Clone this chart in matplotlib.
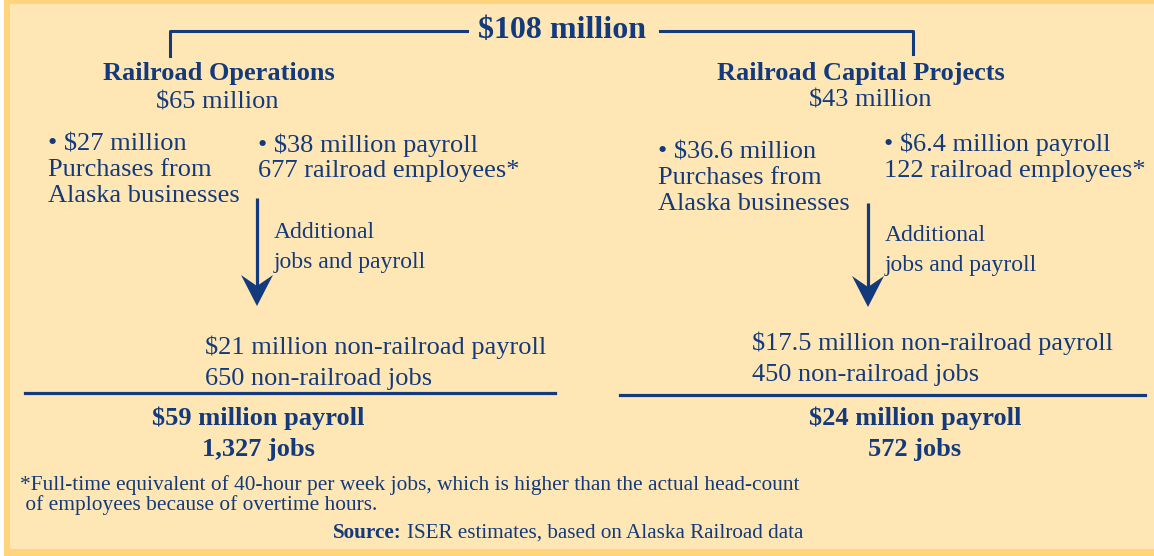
import matplotlib
matplotlib.use("Agg")
import matplotlib.pyplot as plt
from matplotlib.patches import Rectangle, Polygon

# ---- content ----
total_label = "$108 million"
branch_titles = ["Railroad Operations", "Railroad Capital Projects"]
branch_totals = ["$65 million", "$43 million"]
purchases = [["• $27 million", "Purchases from", "Alaska businesses"],
             ["• $36.6 million", "Purchases from", "Alaska businesses"]]
payroll = [["• $38 million payroll", "677 railroad employees*"],
           ["• $6.4 million payroll", "122 railroad employees*"]]
arrow_note = ["Additional", "jobs and payroll"]
induced = [["$21 million non-railroad payroll", "650 non-railroad jobs"],
           ["$17.5 million non-railroad payroll", "450 non-railroad jobs"]]
totals = [["$59 million payroll", "1,327 jobs"],
          ["$24 million payroll", "572 jobs"]]
footnote = ["*Full-time equivalent of 40-hour per week jobs, which is higher than the actual head-count",
            " of employees because of overtime hours."]
source_bold = "Source:"
source_text = "ISER estimates, based on Alaska Railroad data"

NAVY = "#123a7c"
FILL = "#ffe6b5"
STRIPE = "#ffd47c"
FONT = "Liberation Serif"

W, H = 1154, 556
fig = plt.figure(figsize=(W / 100, H / 100), dpi=100)
fig.patch.set_facecolor("white")
ax = fig.add_axes([0, 0, 1, 1])
ax.set_xlim(0, W); ax.set_ylim(H, 0); ax.axis("off")

# background panel with stripe border
ax.add_patch(Rectangle((4, 0), W - 4, H, facecolor=STRIPE, edgecolor="none"))
ax.add_patch(Rectangle((10, 4), W - 10, 545, facecolor=FILL, edgecolor="none"))

DY = 2.5  # matplotlib centres on bbox incl. descenders; nudge down


def txt(x, y, s, size=19, weight="normal", ha="left"):
    return ax.text(x, y + DY, s, fontsize=size, fontweight=weight, ha=ha,
                   va="center", color=NAVY, family=FONT)


def arrow(x, y0, y1):
    ax.plot([x, x], [y0, y1 - 15], color=NAVY, lw=2.3, solid_capstyle="butt")
    ax.add_patch(Polygon([(x, y1), (x - 16, y1 - 31), (x, y1 - 20), (x + 16, y1 - 31)],
                         closed=True, facecolor=NAVY, edgecolor="none"))


# top bracket
txt(562, 28, total_label, size=23, weight="bold", ha="center")
ax.plot([170, 170, 467], [56, 31, 31], color=NAVY, lw=2.2)
ax.plot([660, 913, 913], [31, 31, 54], color=NAVY, lw=2.2)

# layout per branch
title_x = [219, 861]
title_y = [71, 71]
tot_x = [217, 870]
tot_y = [100, 98]
purch_x = [48, 658]
purch_y = [142, 150]
pay_x = [258, 884]
pay_y = [143, 142]
arr_x = [257, 868]
arr_y = [(198, 306), (203, 307)]
note_y = [230, 233]
ind_x = [205, 752]
ind_y = [345, 341]
rule = [(25, 555, 393), (620, 1145, 395)]
fin_x = [258, 915]

for i in range(2):
    txt(title_x[i], title_y[i], branch_titles[i], weight="bold", ha="center")
    txt(tot_x[i], tot_y[i], branch_totals[i], ha="center")
    for k, line in enumerate(purchases[i]):
        txt(purch_x[i], purch_y[i] + 26 * k, line)
    for k, line in enumerate(payroll[i]):
        txt(pay_x[i], pay_y[i] + 26 * k, line)
    arrow(arr_x[i], *arr_y[i])
    for k, line in enumerate(arrow_note):
        txt(arr_x[i] + 17, note_y[i] + 30 * k, line, size=17)
    for k, line in enumerate(induced[i]):
        txt(ind_x[i], ind_y[i] + 32 * k, line)
    x0, x1, yl = rule[i]
    ax.plot([x0, x1], [yl, yl], color=NAVY, lw=2.3)
    for k, line in enumerate(totals[i]):
        txt(fin_x[i], 416 + 31 * k, line, weight="bold", ha="center")

txt(20, 483, footnote[0], size=15.4)
txt(20, 503, footnote[1], size=15.4)

t = txt(333, 531, source_bold, size=15.2, weight="bold")
fig.canvas.draw()
bb = t.get_window_extent().transformed(ax.transData.inverted())
txt(bb.x1 + 5, 531, source_text, size=15.2)

fig.savefig("out.png", dpi=100, facecolor=fig.get_facecolor())
